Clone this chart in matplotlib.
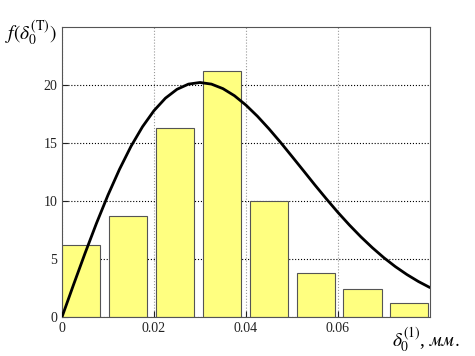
import matplotlib
matplotlib.use("Agg")
import matplotlib.pyplot as plt

# Histogram data
bin_left = [0.0, 0.0102, 0.0204, 0.0306, 0.0408, 0.0510, 0.0612, 0.0714]
bin_height = [6.2, 8.7, 16.3, 21.2, 10.0, 3.8, 2.4, 1.2]
bar_width = 0.0083

# Density curve values
curve_x = [0.0, 0.0025, 0.005, 0.0075, 0.010, 0.0125, 0.015, 0.0175,
           0.020, 0.0225, 0.025, 0.0275, 0.030, 0.0325, 0.035, 0.0375,
           0.040, 0.0425, 0.045, 0.0475, 0.050, 0.0525, 0.055, 0.0575,
           0.060, 0.0625, 0.065, 0.0675, 0.070, 0.0725, 0.075, 0.0775, 0.080]
curve_y = [0.0, 2.77, 5.48, 8.08, 10.51, 12.73, 14.71, 16.40,
           17.79, 18.87, 19.63, 20.08, 20.22, 20.08, 19.69, 19.08,
           18.27, 17.31, 16.23, 15.07, 13.85, 12.62, 11.38, 10.18,
           9.02, 7.93, 6.91, 5.97, 5.11, 4.34, 3.66, 3.06, 2.54]

xticks = [0, 0.02, 0.04, 0.06]
xtick_labels = ["0", "0.02", "0.04", "0.06"]
yticks = [0, 5, 10, 15, 20]

plt.rcParams['font.family'] = ['Liberation Serif', 'DejaVu Serif']
plt.rcParams['mathtext.fontset'] = 'stix'

fig = plt.figure(figsize=(4.75, 3.56), dpi=100)
ax = fig.add_axes([0.1305, 0.1096, 0.7745, 0.8144])

ax.bar(bin_left, bin_height, width=bar_width, align='edge',
       color='#ffff80', edgecolor='#555555', linewidth=0.8, zorder=2)
ax.plot(curve_x, curve_y, color='black', linewidth=2, zorder=3,
        solid_joinstyle='round', solid_capstyle='round')

ax.set_xlim(0, 0.08)
ax.set_ylim(0, 25)
ax.set_xticks(xticks)
ax.set_xticklabels(xtick_labels)
ax.set_yticks(yticks)
ax.yaxis.grid(True, linestyle=':', color='black', linewidth=0.8, zorder=1)
ax.xaxis.grid(True, linestyle=':', color='#999999', linewidth=0.8, zorder=1)
ax.set_axisbelow(True)
ax.tick_params(direction='in', length=4, labelsize=10, colors='#222222')
for s in ax.spines.values():
    s.set_color('#555555')
    s.set_linewidth(0.8)

fig.text(0.01, 0.905, r'$f(\delta_0^{(\mathrm{T})})$', fontsize=14, ha='left', va='center')
fig.text(0.825, 0.045, r'$\delta_0^{(1)}$, $\it{мм.}$', fontsize=14, ha='left', va='center')

fig.savefig('out.png', dpi=100)
